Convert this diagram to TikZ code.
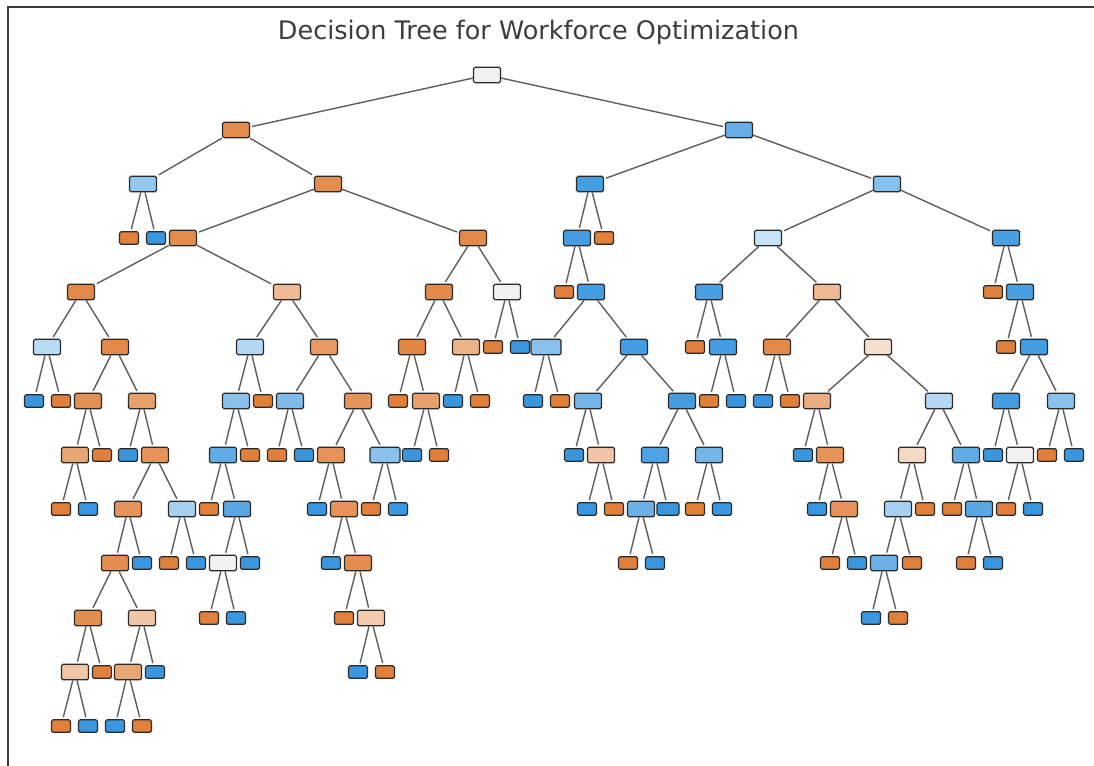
\documentclass[tikz,border=0pt]{standalone}
\usepackage{fontspec}
\newfontfamily\titlefont{DejaVu Sans}
\definecolor{org}{HTML}{E0803A}
\definecolor{blu}{HTML}{3A97DF}
\definecolor{nodeline}{HTML}{2A2A2A}
\definecolor{edgegrey}{HTML}{5E5E5E}
\definecolor{framegrey}{HTML}{3A3A3A}
\definecolor{titlegrey}{HTML}{3D3D3D}
\definecolor{neutral}{HTML}{F1F1F1}
\tikzset{
  split/.style={draw=nodeline, line width=1.2pt, rounded corners=1.6pt,
    minimum width=27pt, minimum height=15.5pt, inner sep=0pt},
  wide/.style={split, minimum width=30pt},
  leaf/.style={draw=nodeline, line width=1.2pt, rounded corners=1.6pt,
    minimum width=19pt, minimum height=12.5pt, inner sep=0pt},
  edge/.style={draw=edgegrey, line width=1.4pt, shorten >=2pt},
  title/.style={font=\titlefont\fontsize{25.5}{30}\selectfont, text=titlegrey, inner sep=0pt},
}
\begin{document}
\begin{tikzpicture}[x=1pt, y=-1pt]
\useasboundingbox (0,0) rectangle (1094,765);
\fill[white] (0,0) rectangle (1094,765);
% frame
\draw[framegrey, line width=1.6pt] (8,766) -- (8,7) -- (1095,7);
% title
\node[title, anchor=base] (title) at (538.5,39.3) {Decision Tree for Workforce Optimization};

% ---- level 0
\node[split, fill=neutral] (r0x487) at (487,75) {};
% ---- level 1
\node[split, fill=org!90!white] (r1x236) at (236,130) {};
\node[split, fill=blu!78!white] (r1x739) at (739,130) {};
% ---- level 2
\node[split, fill=blu!55!white] (r2x143) at (143,184) {};
\node[split, fill=org!90!white] (r2x328) at (328,184) {};
\node[split, fill=blu!95!white] (r2x590) at (590,184) {};
\node[split, fill=blu!62!white] (r2x887) at (887,184) {};
% ---- level 3
\node[leaf, fill=org] (r3x129) at (129,238) {};
\node[leaf, fill=blu] (r3x156) at (156,238) {};
\node[split, fill=org!90!white] (r3x183) at (183,238) {};
\node[split, fill=org!92!white] (r3x473) at (473,238) {};
\node[split, fill=blu!95!white] (r3x577) at (577,238) {};
\node[leaf, fill=org] (r3x604) at (604,238) {};
\node[split, fill=blu!28!white] (r3x768) at (768,238) {};
\node[split, fill=blu!92!white] (r3x1006) at (1006,238) {};
% ---- level 4
\node[split, fill=org!92!white] (r4x81) at (81,292) {};
\node[split, fill=org!55!white] (r4x287) at (287,292) {};
\node[split, fill=org!92!white] (r4x439) at (439,292) {};
\node[split, fill=neutral] (r4x507) at (507,292) {};
\node[leaf, fill=org] (r4x564) at (564,292) {};
\node[split, fill=blu!95!white] (r4x591) at (591,292) {};
\node[split, fill=blu!92!white] (r4x709) at (709,292) {};
\node[split, fill=org!55!white] (r4x827) at (827,292) {};
\node[leaf, fill=org] (r4x993) at (993,292) {};
\node[split, fill=blu!92!white] (r4x1020) at (1020,292) {};
% ---- level 5
\node[split, fill=blu!35!white] (r5x47) at (47,347) {};
\node[split, fill=org!92!white] (r5x115) at (115,347) {};
\node[split, fill=blu!38!white] (r5x250) at (250,347) {};
\node[split, fill=org!80!white] (r5x324) at (324,347) {};
\node[split, fill=org!95!white] (r5x412) at (412,347) {};
\node[split, fill=org!60!white] (r5x466) at (466,347) {};
\node[leaf, fill=org] (r5x493) at (493,347) {};
\node[leaf, fill=blu] (r5x520) at (520,347) {};
\node[wide, fill=blu!60!white] (r5x546) at (546,347) {};
\node[split, fill=blu!95!white] (r5x634) at (634,347) {};
\node[leaf, fill=org] (r5x695) at (695,347) {};
\node[split, fill=blu!95!white] (r5x723) at (723,347) {};
\node[split, fill=org!92!white] (r5x777) at (777,347) {};
\node[split, fill=org!25!white] (r5x878) at (878,347) {};
\node[leaf, fill=org] (r5x1006) at (1006,347) {};
\node[split, fill=blu!95!white] (r5x1034) at (1034,347) {};
% ---- level 6
\node[leaf, fill=blu] (r6x34) at (34,401) {};
\node[leaf, fill=org] (r6x61) at (61,401) {};
\node[split, fill=org!88!white] (r6x88) at (88,401) {};
\node[split, fill=org!75!white] (r6x142) at (142,401) {};
\node[split, fill=blu!60!white] (r6x236) at (236,401) {};
\node[leaf, fill=org] (r6x263) at (263,401) {};
\node[split, fill=blu!65!white] (r6x290) at (290,401) {};
\node[split, fill=org!85!white] (r6x358) at (358,401) {};
\node[leaf, fill=org] (r6x398) at (398,401) {};
\node[split, fill=org!75!white] (r6x426) at (426,401) {};
\node[leaf, fill=blu] (r6x453) at (453,401) {};
\node[leaf, fill=org] (r6x480) at (480,401) {};
\node[leaf, fill=blu] (r6x533) at (533,401) {};
\node[leaf, fill=org] (r6x560) at (560,401) {};
\node[split, fill=blu!72!white] (r6x588) at (588,401) {};
\node[split, fill=blu!95!white] (r6x682) at (682,401) {};
\node[leaf, fill=org] (r6x709) at (709,401) {};
\node[leaf, fill=blu] (r6x736) at (736,401) {};
\node[leaf, fill=blu] (r6x763) at (763,401) {};
\node[leaf, fill=org] (r6x790) at (790,401) {};
\node[split, fill=org!65!white] (r6x817) at (817,401) {};
\node[split, fill=blu!38!white] (r6x939) at (939,401) {};
\node[split, fill=blu!95!white] (r6x1006) at (1006,401) {};
\node[split, fill=blu!60!white] (r6x1061) at (1061,401) {};
% ---- level 7
\node[split, fill=org!70!white] (r7x75) at (75,455) {};
\node[leaf, fill=org] (r7x102) at (102,455) {};
\node[leaf, fill=blu] (r7x128) at (128,455) {};
\node[split, fill=org!85!white] (r7x155) at (155,455) {};
\node[split, fill=blu!80!white] (r7x223) at (223,455) {};
\node[leaf, fill=org] (r7x250) at (250,455) {};
\node[leaf, fill=org] (r7x277) at (277,455) {};
\node[leaf, fill=blu] (r7x304) at (304,455) {};
\node[split, fill=org!85!white] (r7x331) at (331,455) {};
\node[wide, fill=blu!60!white] (r7x385) at (385,455) {};
\node[leaf, fill=blu] (r7x412) at (412,455) {};
\node[leaf, fill=org] (r7x439) at (439,455) {};
\node[leaf, fill=blu] (r7x574) at (574,455) {};
\node[split, fill=org!45!white] (r7x601) at (601,455) {};
\node[split, fill=blu!90!white] (r7x655) at (655,455) {};
\node[split, fill=blu!70!white] (r7x709) at (709,455) {};
\node[leaf, fill=blu] (r7x803) at (803,455) {};
\node[split, fill=org!85!white] (r7x830) at (830,455) {};
\node[split, fill=org!30!white] (r7x912) at (912,455) {};
\node[split, fill=blu!80!white] (r7x966) at (966,455) {};
\node[leaf, fill=blu] (r7x993) at (993,455) {};
\node[split, fill=neutral] (r7x1020) at (1020,455) {};
\node[leaf, fill=org] (r7x1047) at (1047,455) {};
\node[leaf, fill=blu] (r7x1074) at (1074,455) {};
% ---- level 8
\node[leaf, fill=org] (r8x61) at (61,509) {};
\node[leaf, fill=blu] (r8x88) at (88,509) {};
\node[split, fill=org!85!white] (r8x128) at (128,509) {};
\node[split, fill=blu!45!white] (r8x182) at (182,509) {};
\node[leaf, fill=org] (r8x209) at (209,509) {};
\node[split, fill=blu!85!white] (r8x237) at (237,509) {};
\node[leaf, fill=blu] (r8x317) at (317,509) {};
\node[split, fill=org!85!white] (r8x344) at (344,509) {};
\node[leaf, fill=org] (r8x371) at (371,509) {};
\node[leaf, fill=blu] (r8x398) at (398,509) {};
\node[leaf, fill=blu] (r8x587) at (587,509) {};
\node[leaf, fill=org] (r8x614) at (614,509) {};
\node[split, fill=blu!75!white] (r8x641) at (641,509) {};
\node[leaf, fill=blu, minimum width=22pt] (r8x668) at (668,509) {};
\node[leaf, fill=org] (r8x695) at (695,509) {};
\node[leaf, fill=blu] (r8x722) at (722,509) {};
\node[leaf, fill=blu] (r8x817) at (817,509) {};
\node[split, fill=org!85!white] (r8x844) at (844,509) {};
\node[split, fill=blu!45!white] (r8x898) at (898,509) {};
\node[leaf, fill=org] (r8x925) at (925,509) {};
\node[leaf, fill=org] (r8x952) at (952,509) {};
\node[split, fill=blu!85!white] (r8x979) at (979,509) {};
\node[leaf, fill=org] (r8x1006) at (1006,509) {};
\node[leaf, fill=blu] (r8x1033) at (1033,509) {};
% ---- level 9
\node[split, fill=org!90!white] (r9x115) at (115,563) {};
\node[leaf, fill=blu] (r9x142) at (142,563) {};
\node[leaf, fill=org] (r9x169) at (169,563) {};
\node[leaf, fill=blu] (r9x196) at (196,563) {};
\node[split, fill=neutral] (r9x223) at (223,563) {};
\node[leaf, fill=blu] (r9x250) at (250,563) {};
\node[leaf, fill=blu] (r9x331) at (331,563) {};
\node[split, fill=org!90!white] (r9x358) at (358,563) {};
\node[leaf, fill=org] (r9x628) at (628,563) {};
\node[leaf, fill=blu] (r9x655) at (655,563) {};
\node[leaf, fill=org] (r9x830) at (830,563) {};
\node[leaf, fill=blu] (r9x857) at (857,563) {};
\node[split, fill=blu!75!white] (r9x884) at (884,563) {};
\node[leaf, fill=org] (r9x912) at (912,563) {};
\node[leaf, fill=org] (r9x966) at (966,563) {};
\node[leaf, fill=blu] (r9x993) at (993,563) {};
% ---- level 10
\node[split, fill=org!90!white] (r10x88) at (88,618) {};
\node[split, fill=org!45!white] (r10x142) at (142,618) {};
\node[leaf, fill=org] (r10x209) at (209,618) {};
\node[leaf, fill=blu] (r10x236) at (236,618) {};
\node[leaf, fill=org] (r10x344) at (344,618) {};
\node[split, fill=org!40!white] (r10x371) at (371,618) {};
\node[leaf, fill=blu] (r10x871) at (871,618) {};
\node[leaf, fill=org] (r10x898) at (898,618) {};
% ---- level 11
\node[split, fill=org!45!white] (r11x75) at (75,672) {};
\node[leaf, fill=org] (r11x102) at (102,672) {};
\node[split, fill=org!70!white] (r11x128) at (128,672) {};
\node[leaf, fill=blu] (r11x155) at (155,672) {};
\node[leaf, fill=blu] (r11x358) at (358,672) {};
\node[leaf, fill=org] (r11x385) at (385,672) {};
% ---- level 12
\node[leaf, fill=org] (r12x61) at (61,726) {};
\node[leaf, fill=blu] (r12x88) at (88,726) {};
\node[leaf, fill=blu] (r12x115) at (115,726) {};
\node[leaf, fill=org] (r12x142) at (142,726) {};

% ---- connectors: parent -- child
\foreach \p/\c in {
  r0x487/r1x236, r0x487/r1x739,
  r1x236/r2x143, r1x236/r2x328, r1x739/r2x590, r1x739/r2x887,
  r2x143/r3x129, r2x143/r3x156, r2x328/r3x183, r2x328/r3x473,
  r2x590/r3x577, r2x590/r3x604, r2x887/r3x768, r2x887/r3x1006,
  r3x183/r4x81, r3x183/r4x287, r3x473/r4x439, r3x473/r4x507,
  r3x577/r4x564, r3x577/r4x591, r3x768/r4x709, r3x768/r4x827,
  r3x1006/r4x993, r3x1006/r4x1020,
  r4x81/r5x47, r4x81/r5x115, r4x287/r5x250, r4x287/r5x324,
  r4x439/r5x412, r4x439/r5x466, r4x507/r5x493, r4x507/r5x520,
  r4x591/r5x546, r4x591/r5x634, r4x709/r5x695, r4x709/r5x723,
  r4x827/r5x777, r4x827/r5x878, r4x1020/r5x1006, r4x1020/r5x1034,
  r5x47/r6x34, r5x47/r6x61, r5x115/r6x88, r5x115/r6x142,
  r5x250/r6x236, r5x250/r6x263, r5x324/r6x290, r5x324/r6x358,
  r5x412/r6x398, r5x412/r6x426, r5x466/r6x453, r5x466/r6x480,
  r5x546/r6x533, r5x546/r6x560, r5x634/r6x588, r5x634/r6x682,
  r5x723/r6x709, r5x723/r6x736, r5x777/r6x763, r5x777/r6x790,
  r5x878/r6x817, r5x878/r6x939, r5x1034/r6x1006, r5x1034/r6x1061,
  r6x88/r7x75, r6x88/r7x102, r6x142/r7x128, r6x142/r7x155,
  r6x236/r7x223, r6x236/r7x250, r6x290/r7x277, r6x290/r7x304,
  r6x358/r7x331, r6x358/r7x385, r6x426/r7x412, r6x426/r7x439,
  r6x588/r7x574, r6x588/r7x601, r6x682/r7x655, r6x682/r7x709,
  r6x817/r7x803, r6x817/r7x830, r6x939/r7x912, r6x939/r7x966,
  r6x1006/r7x993, r6x1006/r7x1020, r6x1061/r7x1047, r6x1061/r7x1074,
  r7x75/r8x61, r7x75/r8x88, r7x155/r8x128, r7x155/r8x182,
  r7x223/r8x209, r7x223/r8x237, r7x331/r8x317, r7x331/r8x344,
  r7x385/r8x371, r7x385/r8x398, r7x601/r8x587, r7x601/r8x614,
  r7x655/r8x641, r7x655/r8x668, r7x709/r8x695, r7x709/r8x722,
  r7x830/r8x817, r7x830/r8x844, r7x912/r8x898, r7x912/r8x925,
  r7x966/r8x952, r7x966/r8x979, r7x1020/r8x1006, r7x1020/r8x1033,
  r8x128/r9x115, r8x128/r9x142, r8x182/r9x169, r8x182/r9x196,
  r8x237/r9x223, r8x237/r9x250, r8x344/r9x331, r8x344/r9x358,
  r8x641/r9x628, r8x641/r9x655, r8x844/r9x830, r8x844/r9x857,
  r8x898/r9x884, r8x898/r9x912, r8x979/r9x966, r8x979/r9x993,
  r9x115/r10x88, r9x115/r10x142, r9x223/r10x209, r9x223/r10x236,
  r9x358/r10x344, r9x358/r10x371, r9x884/r10x871, r9x884/r10x898,
  r10x88/r11x75, r10x88/r11x102, r10x142/r11x128, r10x142/r11x155,
  r10x371/r11x358, r10x371/r11x385,
  r11x75/r12x61, r11x75/r12x88, r11x128/r12x115, r11x128/r12x142}
  \draw[edge] (\p) -- (\c);
\end{tikzpicture}
\end{document}
